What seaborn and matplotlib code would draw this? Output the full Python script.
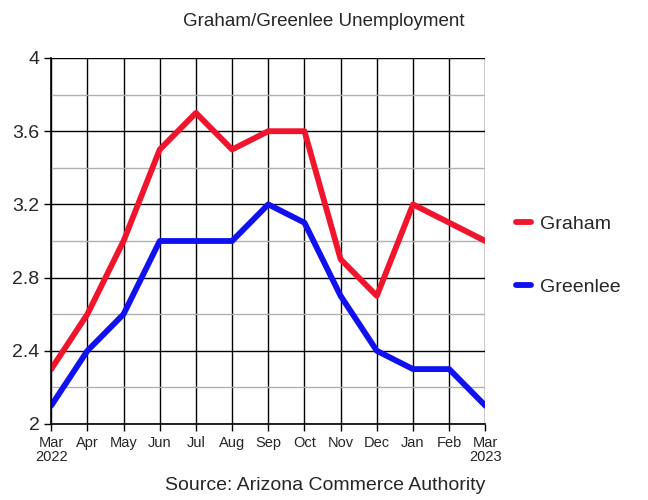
import pandas as pd
import numpy as np
import matplotlib.pyplot as plt
import seaborn as sns
from matplotlib.ticker import MultipleLocator

months = ['Mar\n2022', 'Apr', 'May', 'Jun', 'Jul', 'Aug', 'Sep', 'Oct',
          'Nov', 'Dec', 'Jan', 'Feb', 'Mar\n2023']
graham = [2.3, 2.6, 3.0, 3.5, 3.7, 3.5, 3.6, 3.6, 2.9, 2.7, 3.2, 3.1, 3.0]
greenlee = [2.1, 2.4, 2.6, 3.0, 3.0, 3.0, 3.2, 3.1, 2.7, 2.4, 2.3, 2.3, 2.1]

df = pd.DataFrame({'idx': list(range(len(months))) * 2,
                   'rate': graham + greenlee,
                   'county': ['Graham'] * len(months) + ['Greenlee'] * len(months)})

sns.set_style("white")
plt.rcParams['font.family'] = ['Liberation Sans', 'DejaVu Sans']

fig = plt.figure(figsize=(6.48, 5), dpi=100)
ax = fig.add_axes([0.079, 0.152, 0.670, 0.732])

ax.yaxis.set_minor_locator(MultipleLocator(0.2))
ax.grid(axis='y', which='minor', color='#b0b0b0', linewidth=1)
ax.grid(axis='y', which='major', color='black', linewidth=1)
ax.grid(axis='x', which='major', color='black', linewidth=1)
ax.set_axisbelow(True)

sns.lineplot(data=df, x='idx', y='rate', hue='county',
             palette={'Graham': '#f0142d', 'Greenlee': '#1010f0'},
             linewidth=4.2, ax=ax, legend=True)

ax.set_xlim(0, len(months) - 1)
ax.set_ylim(2, 4)
ax.set_yticks([2, 2.4, 2.8, 3.2, 3.6, 4])
ax.set_yticklabels(['2', '2.4', '2.8', '3.2', '3.6', '4'], fontsize=14)
ax.set_xticks(range(len(months)))
ax.set_xticklabels(months, fontsize=10.5, linespacing=1.0)
ax.tick_params(axis='both', which='major', direction='out', length=5, width=1, color='black',
               left=True, bottom=True)
ax.tick_params(axis='y', which='minor', left=False)
ax.set_xlabel('')
ax.set_ylabel('')
for s in ['top', 'right']:
    ax.spines[s].set_visible(False)
for s in ['left', 'bottom']:
    ax.spines[s].set_color('black')
    ax.spines[s].set_linewidth(1.2)

leg = ax.legend(title=None, loc='center left', bbox_to_anchor=(1.03, 0.46),
                frameon=False, fontsize=14, handlelength=0.8, labelspacing=2.3,
                handletextpad=0.45)

fig.text(0.5, 0.958, 'Graham/Greenlee Unemployment', ha='center', va='center', fontsize=13.5)
fig.text(0.502, 0.028, 'Source: Arizona Commerce Authority', ha='center', va='center', fontsize=14)

fig.savefig('out.png', dpi=100)
